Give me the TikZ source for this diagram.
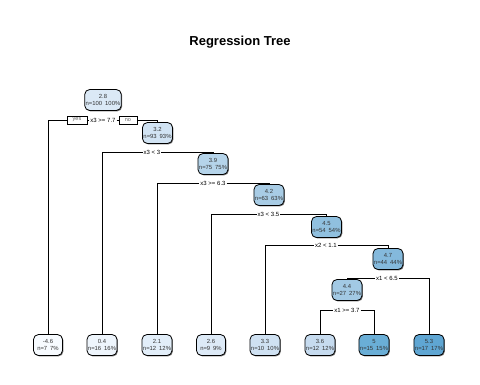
\documentclass[tikz,border=0pt]{standalone}
\usepackage{fontspec}
\setmainfont{Liberation Sans}
\usetikzlibrary{shadows}

\definecolor{v28}{HTML}{DBE9F6}
\definecolor{v32}{HTML}{D1E3F3}
\definecolor{v39}{HTML}{B5D4EA}
\definecolor{v42}{HTML}{A8CCE5}
\definecolor{v45}{HTML}{90C0DF}
\definecolor{v47}{HTML}{84B9DC}
\definecolor{v44}{HTML}{A2C9E4}
\definecolor{vm46}{HTML}{F7FBFF}
\definecolor{v04}{HTML}{EEF5FC}
\definecolor{v21}{HTML}{E2EEF9}
\definecolor{v26}{HTML}{DDEAF7}
\definecolor{v33}{HTML}{CFE1F2}
\definecolor{v36}{HTML}{C6DBEF}
\definecolor{v50}{HTML}{6AAED6}
\definecolor{v53}{HTML}{5FA6D3}

\begin{document}
\begin{tikzpicture}[x=1pt,y=-1pt,
  box/.style={draw,line width=0.8pt,rounded corners=5pt,align=center,
    inner xsep=1pt,inner ysep=2pt,minimum width=29pt,minimum height=21pt,
    font=\fontsize{5.9}{7}\selectfont,text=black!80,
    drop shadow={shadow xshift=0.9pt,shadow yshift=-0.9pt,fill=black!55,opacity=1}},
  split/.style={fill=white,inner sep=1pt,font=\fontsize{6}{7}\selectfont},
  yn/.style={draw,fill=white,line width=0.6pt,inner sep=0pt,minimum width=20pt,
    minimum height=8pt,font=\fontsize{5.5}{6}\selectfont,text=black!60},
  edge/.style={line width=0.8pt}]
\useasboundingbox (0,0) rectangle (480,384);
\node[font=\fontsize{13}{15}\selectfont\bfseries] (title) at (240,42) {Regression Tree};

\node[box,fill=v28] (n1) at (103,100) {2.8\\n=100\enspace100\%};
\node[box,fill=v32] (n3) at (157.5,133) {3.2\\n=93\enspace93\%};
\node[box,fill=v39] (n7) at (213,164) {3.9\\n=75\enspace75\%};
\node[box,fill=v42] (n15) at (269,195) {4.2\\n=63\enspace63\%};
\node[box,fill=v45] (n31) at (326.5,227) {4.5\\n=54\enspace54\%};
\node[box,fill=v47] (n63) at (388,259) {4.7\\n=44\enspace44\%};
\node[box,fill=v44] (n126) at (347,290) {4.4\\n=27\enspace27\%};

\node[box,fill=vm46] (n2) at (48,345) {-4.6\\n=7\enspace7\%};
\node[box,fill=v04] (n6) at (102,345) {0.4\\n=16\enspace16\%};
\node[box,fill=v21] (n14) at (157,345) {2.1\\n=12\enspace12\%};
\node[box,fill=v26] (n30) at (211,345) {2.6\\n=9\enspace9\%};
\node[box,fill=v33] (n62) at (265,345) {3.3\\n=10\enspace10\%};
\node[box,fill=v36] (n252) at (320,345) {3.6\\n=12\enspace12\%};
\node[box,fill=v50] (n253) at (374,345) {5\\n=15\enspace15\%};
\node[box,fill=v53] (n127) at (429,345) {5.3\\n=17\enspace17\%};

\node[split] (s1) at (103,120) {x3 >= 7.7};
\node[split] (s3) at (152,152) {x3 < 3};
\node[split] (s7) at (213,183) {x3 >= 6.3};
\node[split] (s15) at (268.5,214) {x3 < 3.5};
\node[split] (s31) at (326,245) {x2 < 1.1};
\node[split] (s63) at (387,278) {x1 < 6.5};
\node[split] (s126) at (347,310) {x1 >= 3.7};

\draw[edge] (n2.north) |- (s1) -| (n3.north);
\draw[edge] (n6.north) |- (s3) -| (n7.north);
\draw[edge] (n14.north) |- (s7) -| (n15.north);
\draw[edge] (n30.north) |- (s15) -| (n31.north);
\draw[edge] (n62.north) |- (s31) -| (n63.north);
\draw[edge] (n126.north) |- (s63) -| (n127.north);
\draw[edge] (n252.north) |- (s126) -| (n253.north);

\node[yn] (yes) at (77,120) {yes};
\node[yn,minimum width=18pt] (no) at (128,120) {no};
\end{tikzpicture}
\end{document}
